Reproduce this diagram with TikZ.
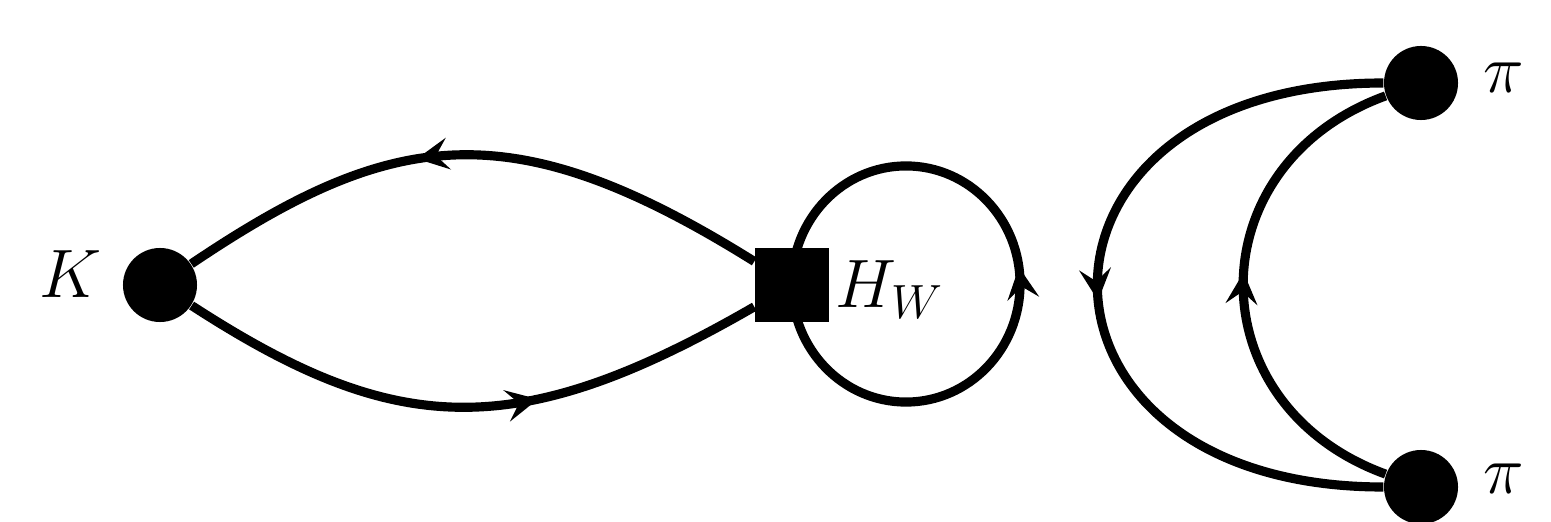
\documentclass[tikz,border=0pt]{standalone}
\usepackage{fix-cm}
\usetikzlibrary{arrows.meta,decorations.markings}

\tikzstyle{dot} = [circle, fill, minimum size=0.74cm, inner sep=0pt]
\tikzstyle{vertex} = [rectangle, fill, minimum size=0.74cm, inner sep=0pt]
\tikzstyle{every node}=[font=\fontsize{19.5}{23}\selectfont]
\tikzset{fermion/.style={line width=2.6pt, postaction={decorate},
	decoration={markings, mark=at position #1 with {\arrow{Stealth[length=9pt,width=9pt,inset=3.5pt]}}}},
	fermion/.default=0.5}

\begin{document}
\begin{tikzpicture}[x=0.01cm, y=0.01cm]
	\useasboundingbox (0,0) rectangle (1551,521);
	\node[dot] (K) at (160,236) {};
	\node (Klabel) at (71,247) {$K$};
	\coordinate (loopc) at (906,237);
	\draw[fermion=0.273] ([yshift=-1.18cm]loopc) arc[start angle=-90, end angle=270, x radius=1.14cm, y radius=1.18cm];
	\node[vertex] (W) at (792,236) {};
	\node[anchor=base west, inner sep=0pt] (Wlabel) at (835,213) {$H_W$};
	\node[dot] (pitop) at (1421,438) {};
	\node[dot] (pibot) at (1421,34) {};
	\node (pitoplabel) at (1504,443) {$\pi$};
	\node (pibotlabel) at (1504,42) {$\pi$};
	\draw[fermion=0.59] (W) to[out=148, in=34, out looseness=1.3, in looseness=1.1] (K);
	\draw[fermion=0.61] (K) to[out=-33, in=-150, out looseness=1.1, in looseness=1.25] (W);
	\draw[fermion=0.52] (pitop) to[out=180, in=180, looseness=2.42] (pibot);
	\draw[fermion=0.525] (pibot) to[out=160, in=200, looseness=1.37] (pitop);
\end{tikzpicture}
\end{document}
